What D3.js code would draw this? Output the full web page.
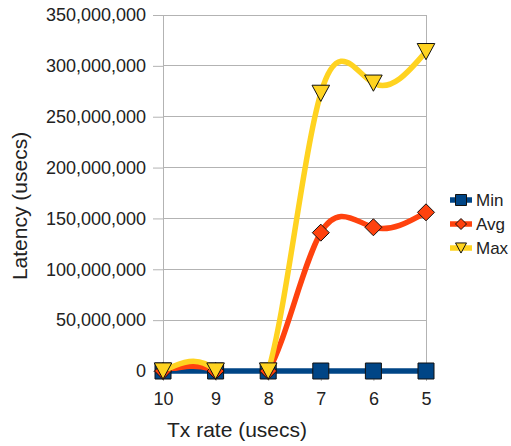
<!DOCTYPE html>
<html>
<head>
<meta charset="utf-8">
<script src="https://cdn.jsdelivr.net/npm/d3@7"></script>
<style>
  html, body { margin: 0; padding: 0; background: #fff; }
  svg { display: block; font-family: "Liberation Sans", Arial, sans-serif; }
</style>
</head>
<body>
<svg id="chart" width="511" height="446"></svg>
<script>
// Tx rate categories (usecs) and latency series (usecs)
const categories = ["10", "9", "8", "7", "6", "5"];
const minValues = [0, 0, 0, 0, 0, 0];
const avgValues = [0, 0, 0, 136000000, 141300000, 156000000];
const maxValues = [0, 0, 0, 273000000, 283000000, 314000000];
const yTicks = [0, 50000000, 100000000, 150000000, 200000000, 250000000, 300000000, 350000000];

const seriesNames = ["Min", "Avg", "Max"];
const seriesColors = ["#004586", "#ff420e", "#ffd320"];
const seriesMarkers = ["square", "diamond", "triangle"];
const seriesValues = [minValues, avgValues, maxValues];

const svg = d3.select("#chart");
const plot = { left: 163, right: 426, top: 15, bottom: 371 };

const x = d3.scalePoint().domain(categories).range([plot.left, plot.right]).padding(0);
const y = d3.scaleLinear().domain([0, 350000000]).range([plot.bottom, plot.top]);

const gridColor = "#b3b3b3";
const textColor = "#222";

// spline segments that swing below zero are cut off at the plot floor
svg.append("defs").append("clipPath").attr("id", "plot-clip")
  .append("rect")
  .attr("x", 0).attr("y", 0)
  .attr("width", 511).attr("height", plot.bottom);

// horizontal grid lines
svg.append("g").selectAll("line").data(yTicks).join("line")
  .attr("x1", plot.left).attr("x2", plot.right)
  .attr("y1", d => y(d)).attr("y2", d => y(d))
  .attr("stroke", gridColor).attr("stroke-width", 1).attr("shape-rendering", "crispEdges");

// right border of the plot area
svg.append("line")
  .attr("x1", plot.right).attr("x2", plot.right)
  .attr("y1", plot.top).attr("y2", plot.bottom)
  .attr("stroke", gridColor).attr("shape-rendering", "crispEdges");

// y axis
const yAxis = svg.append("g")
  .attr("transform", `translate(${plot.left},0)`)
  .call(d3.axisLeft(y).tickValues(yTicks).tickFormat(d3.format(",")).tickSize(10).tickPadding(7));
yAxis.select(".domain").attr("stroke", gridColor);
yAxis.selectAll(".tick line").attr("stroke", gridColor);
yAxis.selectAll(".tick text")
  .attr("fill", textColor).style("font-size", "18px")
  .style("font-family", "'Liberation Sans', Arial, sans-serif");

// x axis
const xAxis = svg.append("g")
  .attr("transform", `translate(0,${plot.bottom})`)
  .call(d3.axisBottom(x).tickSize(10).tickPadding(11));
xAxis.select(".domain").attr("stroke", gridColor);
xAxis.selectAll(".tick line").attr("stroke", gridColor);
xAxis.selectAll(".tick text")
  .attr("fill", textColor).style("font-size", "18px")
  .style("font-family", "'Liberation Sans', Arial, sans-serif");

// axis titles
svg.append("text")
  .attr("x", 237).attr("y", 437)
  .attr("text-anchor", "middle")
  .attr("fill", textColor).style("font-size", "21px")
  .text("Tx rate (usecs)");

svg.append("text")
  .attr("transform", "translate(27,206) rotate(-90)")
  .attr("text-anchor", "middle")
  .attr("fill", textColor).style("font-size", "21px")
  .text("Latency (usecs)");

// marker shapes
function markerPath(type, s) {
  if (type === "square") {
    return `M${-s},${-s}H${s}V${s}H${-s}Z`;
  } else if (type === "diamond") {
    return `M0,${-s}L${s},0L0,${s}L${-s},0Z`;
  } else {
    const h = s * 0.92;
    return `M${-s},${-h}H${s}L0,${h}Z`;
  }
}
const markerSize = { square: 8, diamond: 8.5, triangle: 8.8 };

const line = d3.line()
  .x((d, i) => x(categories[i]))
  .y(d => y(d))
  .curve(d3.curveNatural);

seriesValues.forEach((values, si) => {
  const g = svg.append("g");
  const path = g.append("path")
    .datum(values)
    .attr("d", line)
    .attr("fill", "none")
    .attr("stroke", seriesColors[si])
    .attr("stroke-width", 5.5)
    .attr("stroke-linejoin", "round");
  if (si > 0) path.attr("clip-path", "url(#plot-clip)");
  g.selectAll("path.mark").data(values).join("path")
    .attr("class", "mark")
    .attr("transform", (d, i) => `translate(${x(categories[i])},${y(d)})`)
    .attr("d", markerPath(seriesMarkers[si], markerSize[seriesMarkers[si]]))
    .attr("fill", seriesColors[si])
    .attr("stroke", "#111")
    .attr("stroke-width", 1);
});

// legend
const legend = svg.append("g");
seriesNames.forEach((name, i) => {
  const cy = 200 + i * 24;
  legend.append("line")
    .attr("x1", 450).attr("x2", 472).attr("y1", cy).attr("y2", cy)
    .attr("stroke", seriesColors[i]).attr("stroke-width", 5.5);
  legend.append("path")
    .attr("transform", `translate(461,${cy})`)
    .attr("d", markerPath(seriesMarkers[i], 5.5))
    .attr("fill", seriesColors[i]).attr("stroke", "#111").attr("stroke-width", 1);
  legend.append("text")
    .attr("x", 476).attr("y", cy).attr("dy", "0.36em")
    .attr("fill", textColor).style("font-size", "17px")
    .text(name);
});
</script>
</body>
</html>
